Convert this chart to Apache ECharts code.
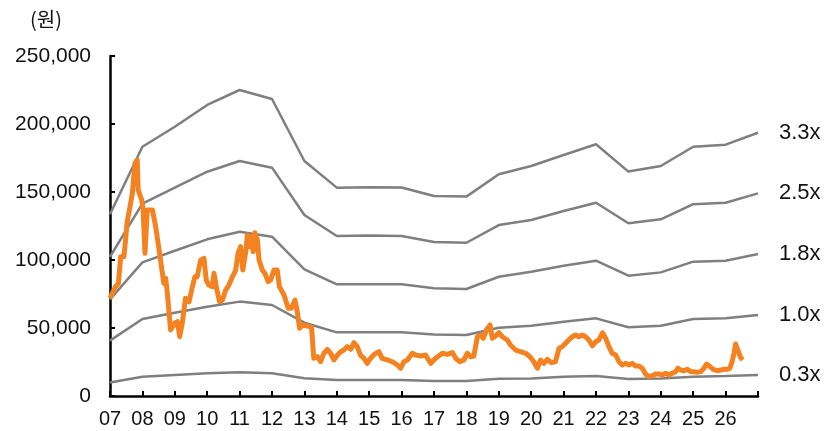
<!DOCTYPE html>
<html><head><meta charset="utf-8">
<script src="https://cdn.jsdelivr.net/npm/echarts@6/dist/echarts.min.js"></script>
<style>html,body{margin:0;padding:0;background:#fff}#c{width:825px;height:431px}</style>
</head><body><div id="c"></div>
<script>
const bandYears = [2007,2008,2009,2010,2011,2012,2013,2014,2015,2016,2017,2018,2019,2020,2021,2022,2023,2024,2025,2026,2027];
const band33 = [133600,183300,198000,214000,225000,218400,172800,153200,153500,153300,147000,146600,163000,169100,177200,185100,165000,169100,183300,184800,193600];
const band25 = [102400,141500,153200,164900,172800,167900,133100,117600,118000,117600,113300,112700,125700,129400,136000,142100,127000,129900,141000,142100,149000];
const band18 = [71100,98300,106800,115200,120800,117100,93100,82100,82200,82100,79200,78700,87700,91400,95800,99500,88500,90900,98800,99500,104400];
const band10 = [40700,56600,61200,65700,69400,66900,53900,46800,46800,46800,45300,44900,50200,51700,54600,57100,50500,51700,56600,57100,59600];
const band03 = [10000,14200,15500,16700,17400,16700,13000,11800,11800,11800,11000,11000,12700,12900,14200,14700,12500,12900,14200,14700,15400];
const bandNames = ['3.3x','2.5x','1.8x','1.0x','0.3x'];
const priceDates = [2007.0,2007.17,2007.26,2007.33,2007.43,2007.48,2007.53,2007.6,2007.69,2007.77,2007.84,2007.87,2007.98,2008.02,2008.08,2008.15,2008.31,2008.41,2008.56,2008.66,2008.72,2008.77,2008.87,2008.92,2009.0,2009.08,2009.15,2009.23,2009.33,2009.44,2009.52,2009.62,2009.69,2009.8,2009.9,2009.97,2010.05,2010.16,2010.21,2010.28,2010.38,2010.47,2010.57,2010.67,2010.78,2010.88,2010.95,2011.03,2011.10,2011.19,2011.24,2011.32,2011.37,2011.42,2011.47,2011.55,2011.6,2011.70,2011.78,2011.88,2011.96,2012.06,2012.16,2012.23,2012.37,2012.50,2012.6,2012.71,2012.78,2012.85,2012.95,2013.09,2013.22,2013.29,2013.40,2013.50,2013.6,2013.71,2013.81,2013.91,2014.02,2014.12,2014.22,2014.32,2014.43,2014.53,2014.63,2014.73,2014.84,2014.94,2015.04,2015.17,2015.30,2015.40,2015.56,2015.71,2015.87,2015.97,2016.07,2016.18,2016.33,2016.43,2016.59,2016.74,2016.9,2017.05,2017.26,2017.41,2017.57,2017.67,2017.80,2017.92,2018.03,2018.13,2018.23,2018.34,2018.44,2018.52,2018.62,2018.73,2018.80,2018.90,2019.0,2019.11,2019.26,2019.36,2019.52,2019.67,2019.83,2019.96,2020.08,2020.19,2020.29,2020.39,2020.50,2020.62,2020.75,2020.86,2020.96,2021.06,2021.16,2021.27,2021.37,2021.47,2021.58,2021.68,2021.78,2021.89,2021.99,2022.09,2022.20,2022.30,2022.40,2022.50,2022.61,2022.71,2022.81,2022.91,2023.02,2023.12,2023.22,2023.32,2023.43,2023.53,2023.63,2023.74,2023.84,2023.94,2024.05,2024.15,2024.25,2024.35,2024.46,2024.53,2024.61,2024.71,2024.82,2024.92,2025.02,2025.12,2025.23,2025.33,2025.41,2025.52,2025.62,2025.74,2025.85,2025.95,2026.05,2026.13,2026.20,2026.26,2026.31,2026.38,2026.45,2026.52];
const priceValues = [72000,80400,82900,102400,102400,114700,128200,136800,149000,171100,173500,151500,144100,138000,104900,136800,136800,124500,100000,82900,86500,75500,48500,47300,53500,54700,43600,53500,71800,69300,77900,87700,87700,100000,101200,85300,81600,80400,90200,80400,69300,70600,77900,81600,87700,92600,104900,109800,92600,106100,118400,109800,117100,106100,120100,114700,100000,92600,90200,84100,85300,92600,92600,80400,74300,64500,64500,70600,62000,49800,52200,51500,50500,27700,28900,25200,31400,34300,31400,26500,30100,32600,33800,36300,34300,39200,36300,30100,27700,24000,27700,30900,32600,27700,26500,25200,22800,20400,25200,26500,31400,30100,29400,30100,24000,27700,31400,30600,31900,27700,25200,26500,31400,28900,29400,43600,44900,42400,48500,52200,42400,44100,46500,43600,41200,37500,33800,32600,31400,28900,25200,20400,26500,24000,27000,24500,25200,35100,36300,38800,41200,43600,44900,43600,44900,43600,41200,36800,39900,41200,46500,42400,36300,31400,30100,25200,22800,24000,22800,24000,22100,22100,20400,16200,14200,14900,16200,16200,15400,16700,15400,16700,17900,20400,19100,18600,19600,17900,17900,17400,17900,20400,23500,21600,19600,18600,19100,19600,19600,20400,25200,31400,38200,33800,28900,26500];
const yTicks = [0,50000,100000,150000,200000,250000];

const chart = echarts.init(document.getElementById('c'), null, {renderer:'canvas'});
const FONT = 'Liberation Sans, Arial, sans-serif';
const bands = [band33, band25, band18, band10, band03];
const series = bands.map((arr, i) => ({
  type: 'line',
  name: bandNames[i],
  data: bandYears.map((y, j) => [y, arr[j]]),
  showSymbol: false,
  lineStyle: { color: '#7f7f7f', width: 2.5 },
  z: 2,
  endLabel: { show: true, formatter: bandNames[i], distance: 21, color: '#111', fontSize: 22, fontFamily: FONT },
  silent: true
}));
series.push({
  type: 'line',
  name: 'price',
  data: priceDates.map((d, j) => [d, priceValues[j]]),
  showSymbol: false,
  lineStyle: { color: '#F58220', width: 5, join: 'round' },
  z: 5
});
chart.setOption({
  animation: false,
  backgroundColor: '#fff',
  grid: { left: 110, right: 67, top: 56, bottom: 35, containLabel: false },
  graphic: [{ type: 'text', left: 30, top: 9, style: { text: '(원)', fontSize: 20, fill: '#111', fontFamily: 'Noto Sans CJK KR, sans-serif' } }],
  xAxis: {
    type: 'value', min: 2007, max: 2027, interval: 1,
    axisLine: { show: true, lineStyle: { color: '#000', width: 2.5 } },
    axisTick: { show: true, inside: true, length: 5, lineStyle: { color: '#000', width: 2 } },
    axisLabel: { color: '#111', fontSize: 20, fontFamily: FONT, margin: 13,
      formatter: v => v >= 2027 ? '' : String(v % 100).padStart(2, '0') },
    splitLine: { show: false }
  },
  yAxis: {
    type: 'value', min: 0, max: 250000, interval: 50000,
    axisLine: { show: true, lineStyle: { color: '#000', width: 2.5 } },
    axisTick: { show: true, inside: true, length: 5, lineStyle: { color: '#000', width: 2 } },
    axisLabel: { color: '#111', fontSize: 21, fontFamily: FONT, margin: 19,
      formatter: v => yTicks.includes(v) ? v.toLocaleString('en-US') : '' },
    splitLine: { show: false }
  },
  series: series
});
</script></body></html>
